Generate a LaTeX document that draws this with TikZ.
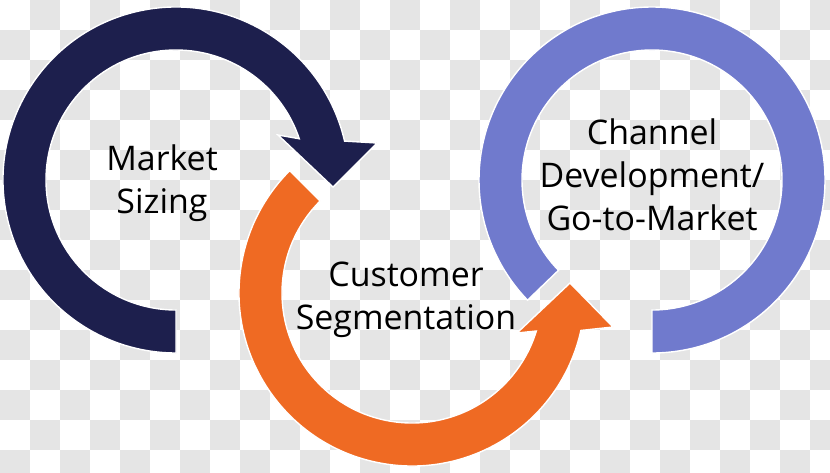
\documentclass[tikz,border=0pt]{standalone}
\usepackage{fontspec}
\setmainfont{Open Sans}
\usetikzlibrary{calc}
\definecolor{myn}{RGB}{29, 31, 77}
\definecolor{myo}{RGB}{239, 106, 35}
\definecolor{myp}{RGB}{112, 122, 205}
\definecolor{myc}{RGB}{229, 229, 229}
\tikzset{ring/.style={draw=white, line width=0.8pt, line join=miter},
    lbl/.style={align=center, font=\fontsize{19.3}{24.6}\selectfont, text=black}}

\begin{document}
\begin{tikzpicture}[x=0.2mm, y=0.2mm]
        \useasboundingbox (0,0) rectangle (830,472);
        \begin{scope}
            \clip (0,0) rectangle (830,472);
            \foreach \i in {0,...,27}
                \foreach \j in {0,...,15}
                {
                    \ifodd\numexpr\i+\j\relax
                        \fill[myc] (30*\i,442-30*\j) rectangle ++(30,30);
                    \fi
                }
        \end{scope}
        \coordinate (nc) at (176,292);
        \coordinate (oc) at (412,179);
        \coordinate (pc) at (652,292);
        \filldraw[ring, fill=myp] ($(pc)+(-90:173)$) arc[start angle=-90, end angle=224, radius=173] -- ($(pc)+(224:130)$) arc[start angle=224, end angle=-90, radius=130] -- cycle;
        \filldraw[ring, fill=myn] ($(nc)+(270:130)$) arc[start angle=270, end angle=18.5, radius=130] -- (278,337) -- (333,285) -- (377,329) -- ($(nc)+(13:173)$) arc[start angle=13, end angle=270, radius=173] -- cycle;
        \filldraw[ring, fill=myo] ($(oc)+(135:130)$) arc[start angle=135, end angle=343, radius=130] -- (517,139) -- (570,189) -- (613,145) -- ($(oc)+(347.5:173)$) arc[start angle=347.5, end angle=135, radius=173] -- cycle;
        \node[lbl] (sizing) at (162,288.5) {Market\\Sizing};
        \node[lbl] (segment) at (406,172.5) {Customer\\Segmentation};
        \node[lbl] (channel) at (652,297) {Channel\\Development/\\Go-to-Market};
\end{tikzpicture}
\end{document}
